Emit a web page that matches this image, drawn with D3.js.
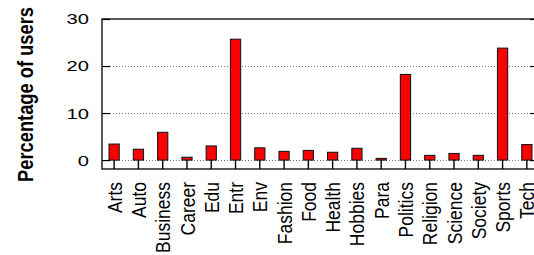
<!DOCTYPE html>
<html>
<head>
<meta charset="utf-8" />
<script src="https://d3js.org/d3.v7.min.js"></script>
<style>
  body { margin: 0; background: #fff; }
  svg { display: block; font-family: "Liberation Sans", Arial, Helvetica, sans-serif; }
</style>
</head>
<body>
<div id="chart"></div>
<script>
// data
var categories = ["Arts", "Auto", "Business", "Career", "Edu", "Entr", "Env", "Fashion", "Food",
                  "Health", "Hobbies", "Para", "Politics", "Religion", "Science", "Society", "Sports", "Tech"]
var values = [3.4, 2.3, 5.9, 0.6, 3.0, 25.7, 2.6, 1.85, 2.05, 1.65, 2.5, 0.35, 18.2, 1.0, 1.4, 1.0, 23.8, 3.3]
var yTicks = [0, 10, 20, 30]
var gridTicks = [0, 10, 20]

var W = 534, H = 255
var plot = {left: 102, right: 539, top: 19, bottom: 169}

var svg = d3.select("#chart").append("svg")
  .attr("width", W).attr("height", H)

var x = d3.scaleBand()
  .domain(categories)
  .range([plot.left, plot.right])
  .padding(0)

var y = d3.scaleLinear()
  .domain([-1.9, 30])
  .range([plot.bottom, plot.top])

var barW = x.bandwidth() * 0.42

// dotted grid
svg.append("g")
  .selectAll("line")
  .data(gridTicks)
  .enter().append("line")
  .attr("x1", plot.left + 8).attr("x2", plot.right - 9)
  .attr("y1", function(d) { return Math.round(y(d)) + 0.5 })
  .attr("y2", function(d) { return Math.round(y(d)) + 0.5 })
  .attr("stroke", "#777")
  .attr("stroke-width", 1)
  .attr("stroke-dasharray", "1,2")

// bars
svg.append("g")
  .selectAll("rect")
  .data(values)
  .enter().append("rect")
  .attr("x", function(d, i) { return x(categories[i]) + x.bandwidth() / 2 - barW / 2 })
  .attr("y", function(d) { return y(d) })
  .attr("width", barW)
  .attr("height", function(d) { return y(0) - y(d) })
  .attr("fill", "#ff0000")
  .attr("stroke", "#1a1a1a")
  .attr("stroke-width", 1.1)

// left axis, ticks inward
var yAxis = svg.append("g")
  .attr("transform", "translate(" + plot.left + ",0)")
  .call(d3.axisLeft(y).tickValues(yTicks).tickSize(-8).tickSizeOuter(0).tickPadding(13))
yAxis.select(".domain").remove()
yAxis.selectAll("line").attr("stroke", "#000").attr("stroke-width", 1.2)
yAxis.selectAll("text")
  .attr("fill", "#000")
  .style("font-size", "15.5px")
  .attr("transform", "translate(-13,0) scale(1.3,1) translate(13,0)")

// right mirror ticks
var yAxisR = svg.append("g")
  .attr("transform", "translate(" + plot.right + ",0)")
  .call(d3.axisRight(y).tickValues(yTicks).tickSize(-9).tickSizeOuter(0).tickFormat(""))
yAxisR.select(".domain").remove()
yAxisR.selectAll("line").attr("stroke", "#000").attr("stroke-width", 1.2)

// bottom axis, ticks inward, rotated labels
var xAxis = svg.append("g")
  .attr("transform", "translate(0," + plot.bottom + ")")
  .call(d3.axisBottom(x).tickSize(-9).tickSizeOuter(0))
xAxis.select(".domain").remove()
xAxis.selectAll("line").attr("stroke", "#000").attr("stroke-width", 1.4)
xAxis.selectAll("text")
  .attr("fill", "#000")
  .attr("x", 0).attr("y", 0).attr("dy", "0.36em")
  .attr("text-anchor", "end")
  .style("font-size", "17.5px")
  .attr("transform", "translate(0,13) scale(1.2,1) rotate(-90)")

// frame
svg.append("rect")
  .attr("x", plot.left).attr("y", plot.top)
  .attr("width", plot.right - plot.left).attr("height", plot.bottom - plot.top)
  .attr("fill", "none")
  .attr("stroke", "#000")
  .attr("stroke-width", 1.3)

// y label
svg.append("text")
  .attr("transform", "translate(25,94.5) scale(1.2,1) rotate(-90)")
  .attr("text-anchor", "middle")
  .attr("dy", "0.35em")
  .style("font-size", "18.3px")
  .style("font-weight", "bold")
  .text("Percentage of users")
</script>
</body>
</html>
